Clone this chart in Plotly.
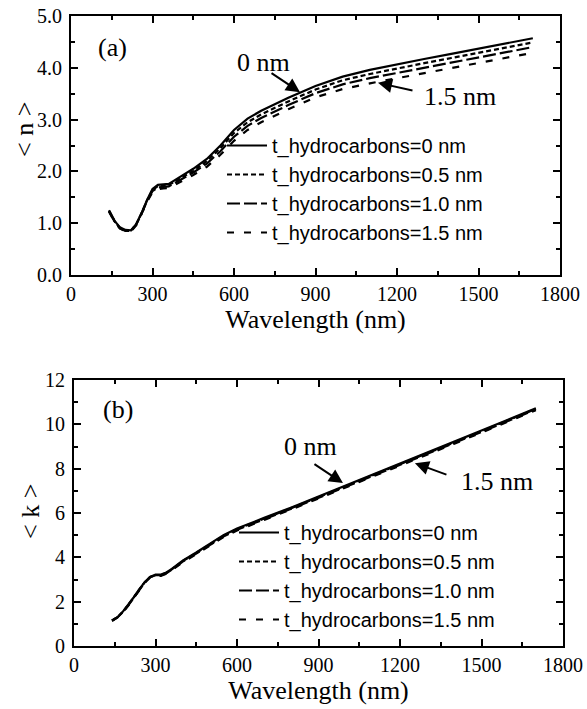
import plotly.graph_objects as go

wavelength = [140, 160, 180, 200, 220, 240, 260, 280, 300, 320, 340, 360, 400, 450, 500,
              550, 600, 650, 700, 800, 900, 1000, 1100, 1200, 1300, 1400, 1500, 1600, 1700]

n_0nm = [1.25, 1.05, 0.92, 0.87, 0.86, 0.98, 1.20, 1.45, 1.66, 1.74, 1.75, 1.76, 1.89, 2.05, 2.24,
         2.50, 2.80, 3.02, 3.17, 3.42, 3.65, 3.83, 3.96, 4.07, 4.17, 4.27, 4.37, 4.47, 4.57]
n_05nm = [1.24, 1.04, 0.91, 0.86, 0.85, 0.98, 1.19, 1.44, 1.64, 1.72, 1.73, 1.74, 1.86, 2.01, 2.20,
          2.45, 2.74, 2.95, 3.10, 3.35, 3.58, 3.76, 3.88, 3.99, 4.09, 4.19, 4.29, 4.39, 4.49]
n_10nm = [1.23, 1.04, 0.90, 0.85, 0.85, 0.97, 1.19, 1.43, 1.62, 1.69, 1.70, 1.71, 1.83, 1.98, 2.15,
          2.39, 2.67, 2.88, 3.03, 3.28, 3.51, 3.68, 3.80, 3.90, 4.00, 4.10, 4.20, 4.30, 4.40]
n_15nm = [1.22, 1.03, 0.90, 0.84, 0.84, 0.96, 1.18, 1.41, 1.60, 1.66, 1.67, 1.68, 1.79, 1.93, 2.09,
          2.32, 2.59, 2.80, 2.95, 3.20, 3.43, 3.59, 3.70, 3.80, 3.90, 3.99, 4.09, 4.19, 4.29]

k_0nm = [1.15, 1.30, 1.55, 1.85, 2.20, 2.55, 2.88, 3.12, 3.22, 3.22, 3.32, 3.48, 3.85, 4.22, 4.62,
         5.00, 5.30, 5.55, 5.78, 6.25, 6.74, 7.23, 7.73, 8.22, 8.72, 9.22, 9.72, 10.22, 10.72]
k_05nm = [1.15, 1.30, 1.54, 1.84, 2.19, 2.54, 2.87, 3.11, 3.20, 3.20, 3.30, 3.46, 3.83, 4.20, 4.59,
          4.97, 5.27, 5.52, 5.75, 6.22, 6.71, 7.20, 7.70, 8.19, 8.69, 9.19, 9.69, 10.19, 10.70]
k_10nm = [1.14, 1.29, 1.54, 1.83, 2.18, 2.53, 2.86, 3.10, 3.19, 3.18, 3.28, 3.44, 3.81, 4.17, 4.56,
          4.94, 5.24, 5.49, 5.72, 6.19, 6.68, 7.17, 7.67, 8.16, 8.66, 9.16, 9.66, 10.16, 10.67]
k_15nm = [1.14, 1.29, 1.53, 1.82, 2.17, 2.52, 2.85, 3.09, 3.17, 3.16, 3.26, 3.42, 3.78, 4.14, 4.53,
          4.91, 5.21, 5.46, 5.69, 6.16, 6.65, 7.14, 7.64, 8.13, 8.63, 9.13, 9.63, 10.13, 10.64]

series_names = ["t_hydrocarbons=0 nm", "t_hydrocarbons=0.5 nm",
                "t_hydrocarbons=1.0 nm", "t_hydrocarbons=1.5 nm"]
dashes = ["solid", "5px,3px", "13px,4px", "7px,10px"]

x_ticks = [0, 300, 600, 900, 1200, 1500, 1800]

SERIF = "Liberation Serif"
SANS = "Liberation Sans"

fig = go.Figure()
for name, ys, d in zip(series_names, [n_0nm, n_05nm, n_10nm, n_15nm], dashes):
    fig.add_trace(go.Scatter(x=wavelength, y=ys, mode="lines", name=name,
                             line=dict(color="black", width=2.2, dash=d),
                             xaxis="x", yaxis="y", legend="legend"))
for name, ys, d in zip(series_names, [k_0nm, k_05nm, k_10nm, k_15nm], dashes):
    fig.add_trace(go.Scatter(x=wavelength, y=ys, mode="lines", name=name,
                             line=dict(color="black", width=2.2, dash=d),
                             xaxis="x2", yaxis="y2", legend="legend2"))

W, H = 587, 709
tick_font = dict(family=SERIF, size=20, color="black")
title_font = dict(family=SERIF, size=26, color="black")

def xax(domain, anchor):
    return dict(domain=domain, anchor=anchor, range=[0, 1800], tickvals=x_ticks,
                ticks="inside", ticklen=7, tickwidth=2, tickcolor="black",
                minor=dict(ticks="inside", ticklen=4, tickwidth=2, dtick=150, tickcolor="black"),
                showline=True, linewidth=2, linecolor="black", mirror="allticks",
                showgrid=False, zeroline=False, automargin=False,
                tickfont=tick_font,
                title=dict(text="Wavelength (nm)", font=title_font, standoff=2))

def yax(domain, anchor, rng, dtick, minor, fmt):
    return dict(domain=domain, anchor=anchor, range=rng, dtick=dtick, tick0=0, tickformat=fmt,
                ticks="inside", ticklen=7, tickwidth=2, tickcolor="black",
                minor=dict(ticks="inside", ticklen=4, tickwidth=2, dtick=minor, tickcolor="black"),
                showline=True, linewidth=2, linecolor="black", mirror="allticks",
                showgrid=False, zeroline=False, automargin=False, ticklabelstandoff=3,
                tickfont=tick_font)

ann_font = dict(family=SERIF, size=26, color="black")
arrow = dict(showarrow=True, arrowhead=2, arrowsize=1.4, arrowwidth=2, arrowcolor="black")
annotations = [
    dict(text="(a)", x=151, y=4.40, xref="x", yref="y", showarrow=False, font=ann_font,
         xanchor="center", yanchor="middle"),
    dict(text="0 nm", x=707, y=4.11, xref="x", yref="y", showarrow=False, font=ann_font,
         xanchor="center", yanchor="middle"),
    dict(text="", x=843, y=3.53, xref="x", yref="y", ax=-30, ay=-20, **arrow),
    dict(text="1.5 nm", x=1432, y=3.44, xref="x", yref="y", showarrow=False, font=ann_font,
         xanchor="center", yanchor="middle"),
    dict(text="", x=1130, y=3.71, xref="x", yref="y", ax=36, ay=8, **arrow),
    dict(text="(b)", x=162, y=10.65, xref="x2", yref="y2", showarrow=False, font=ann_font,
         xanchor="center", yanchor="middle"),
    dict(text="0 nm", x=869, y=9.02, xref="x2", yref="y2", showarrow=False, font=ann_font,
         xanchor="center", yanchor="middle"),
    dict(text="", x=990, y=7.35, xref="x2", yref="y2", ax=-30, ay=-20, **arrow),
    dict(text="1.5 nm", x=1557, y=7.40, xref="x2", yref="y2", showarrow=False, font=ann_font,
         xanchor="center", yanchor="middle"),
    dict(text="", x=1255, y=8.25, xref="x2", yref="y2", ax=33, ay=12, **arrow),
    dict(text="< n >", x=25 / W, y=1 - 130 / H, xref="paper", yref="paper", showarrow=False,
         textangle=-90, font=ann_font, xanchor="center", yanchor="middle"),
    dict(text="< k >", x=30 / W, y=1 - 512 / H, xref="paper", yref="paper", showarrow=False,
         textangle=-90, font=ann_font, xanchor="center", yanchor="middle"),
]

leg_common = dict(font=dict(family=SANS, size=20, color="black"), bgcolor="rgba(0,0,0,0)",
                  itemwidth=40, xanchor="left", yanchor="middle", tracegroupgap=0)

fig.update_layout(
    width=W, height=H, margin=dict(l=0, r=0, t=0, b=0, pad=0, autoexpand=False),
    paper_bgcolor="white", plot_bgcolor="white",
    font=dict(family=SERIF, size=20, color="black"),
    xaxis=xax([71 / W, 560 / W], "y"),
    yaxis=yax([1 - 275 / H, 1 - 16 / H], "x", [0, 5], 1, 0.5, ".1f"),
    xaxis2=xax([74 / W, 563 / W], "y2"),
    yaxis2=yax([1 - 646 / H, 1 - 380 / H], "x2", [0, 12], 2, 1, "d"),
    legend=dict(x=222 / W, y=1 - 189 / H, **leg_common),
    legend2=dict(x=234 / W, y=1 - 576 / H, **leg_common),
    annotations=annotations,
    showlegend=True,
)

fig.write_html("out.html")
